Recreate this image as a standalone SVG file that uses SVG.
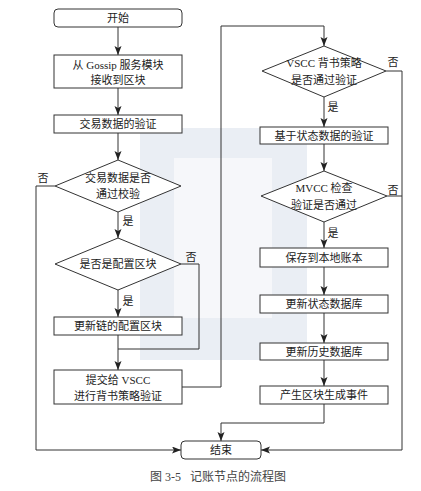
<svg xmlns="http://www.w3.org/2000/svg" width="421" height="491" viewBox="0 0 421 491">
<style>
.box{fill:#fff;stroke:#333;stroke-width:1}
.t{font-family:"Liberation Serif","Noto Sans CJK SC",serif;font-size:11px;fill:#222;text-anchor:middle;dominant-baseline:central}
.lbl{font-family:"Liberation Serif","Noto Sans CJK SC",serif;font-size:11px;fill:#222;text-anchor:middle;dominant-baseline:central}
.c{fill:none;stroke:#333;stroke-width:1}
.cap{font-family:"Liberation Serif","Noto Sans CJK SC",serif;font-size:12px;fill:#444;white-space:pre;dominant-baseline:central}
</style>
<defs>
<marker id="ah" markerUnits="userSpaceOnUse" markerWidth="10" markerHeight="8" refX="9" refY="3.5" orient="auto">
<path d="M0,0 L9,3.5 L0,7 L2,3.5 z" fill="#222"/>
</marker>
</defs>
<rect width="421" height="491" fill="#fff"/>
<g id="watermark" opacity="0.5">
<rect x="140" y="128" width="167" height="232" fill="#d6deea"/>
<rect x="174" y="158" width="98" height="160" fill="#eef1f6"/>
</g>
<g id="connectors">
<path class="c" d="M118,27 V55" marker-end="url(#ah)"/>
<path class="c" d="M118,88 V115" marker-end="url(#ah)"/>
<path class="c" d="M118,133 V160" marker-end="url(#ah)"/>
<path class="c" d="M118,212 V238" marker-end="url(#ah)"/>
<path class="c" d="M118,290 V317" marker-end="url(#ah)"/>
<path class="c" d="M118,335 V370" marker-end="url(#ah)"/>
<path class="c" d="M181,264 H199 V349 H118"/>
<path class="c" d="M55,186 H36 V450 H181" marker-end="url(#ah)"/>
<path class="c" d="M182,387 H221 V26 H324 V46" marker-end="url(#ah)"/>
<path class="c" d="M324,97 V127" marker-end="url(#ah)"/>
<path class="c" d="M324,144 V171" marker-end="url(#ah)"/>
<path class="c" d="M324,222 V248" marker-end="url(#ah)"/>
<path class="c" d="M324,267 V295" marker-end="url(#ah)"/>
<path class="c" d="M324,313 V343" marker-end="url(#ah)"/>
<path class="c" d="M324,360 V386" marker-end="url(#ah)"/>
<path class="c" d="M324,404 V423 H221 V441" marker-end="url(#ah)"/>
<path class="c" d="M386,71 H402 V450 H261" marker-end="url(#ah)"/>
<path class="c" d="M387,196 H402"/>
<text class="lbl" x="43" y="178">否</text>
<text class="lbl" x="128" y="221">是</text>
<text class="lbl" x="191" y="257">否</text>
<text class="lbl" x="128" y="301">是</text>
<text class="lbl" x="393" y="62">否</text>
<text class="lbl" x="333" y="107">是</text>
<text class="lbl" x="393" y="190">否</text>
<text class="lbl" x="333" y="233">是</text>
</g>
<g id="start"><rect class="box" x="54" y="9" width="128" height="18" rx="4"/><text class="t" x="118" y="18">开始</text></g>
<g id="receive"><rect class="box" x="54" y="55" width="128" height="33"/><text class="t" x="118" y="65">从 Gossip 服务模块</text><text class="t" x="118" y="80">接收到区块</text></g>
<g id="txverify"><rect class="box" x="54" y="115" width="128" height="18"/><text class="t" x="118" y="124">交易数据的验证</text></g>
<g id="d1"><polygon class="box" points="118,160 181,186 118,212 55,186"/><text class="t" x="118" y="178">交易数据是否</text><text class="t" x="118" y="194">通过校验</text></g>
<g id="d2"><polygon class="box" points="118,238 181,264 118,290 55,264"/><text class="t" x="118" y="264">是否是配置区块</text></g>
<g id="updconf"><rect class="box" x="54" y="317" width="128" height="18"/><text class="t" x="118" y="326">更新链的配置区块</text></g>
<g id="vscc"><rect class="box" x="54" y="370" width="128" height="34"/><text class="t" x="118" y="380">提交给 VSCC</text><text class="t" x="118" y="396">进行背书策略验证</text></g>
<g id="d3"><polygon class="box" points="324,46 386,71 324,97 262,71"/><text class="t" x="324" y="63">VSCC 背书策略</text><text class="t" x="324" y="80">是否通过验证</text></g>
<g id="stateverify"><rect class="box" x="260" y="127" width="128" height="17"/><text class="t" x="324" y="135.5">基于状态数据的验证</text></g>
<g id="d4"><polygon class="box" points="324,171 387,196 324,222 261,196"/><text class="t" x="324" y="188">MVCC 检查</text><text class="t" x="324" y="205">验证是否通过</text></g>
<g id="save"><rect class="box" x="260" y="248" width="128" height="19"/><text class="t" x="324" y="257.5">保存到本地账本</text></g>
<g id="updstate"><rect class="box" x="260" y="295" width="128" height="18"/><text class="t" x="324" y="304">更新状态数据库</text></g>
<g id="updhist"><rect class="box" x="260" y="343" width="128" height="17"/><text class="t" x="324" y="351.5">更新历史数据库</text></g>
<g id="event"><rect class="box" x="260" y="386" width="128" height="18"/><text class="t" x="324" y="395">产生区块生成事件</text></g>
<g id="end"><rect class="box" x="181" y="441" width="80" height="18" rx="4"/><text class="t" x="221" y="450">结束</text></g>
<text class="cap" x="150" y="477">图 3-5   记账节点的流程图</text>
</svg>
